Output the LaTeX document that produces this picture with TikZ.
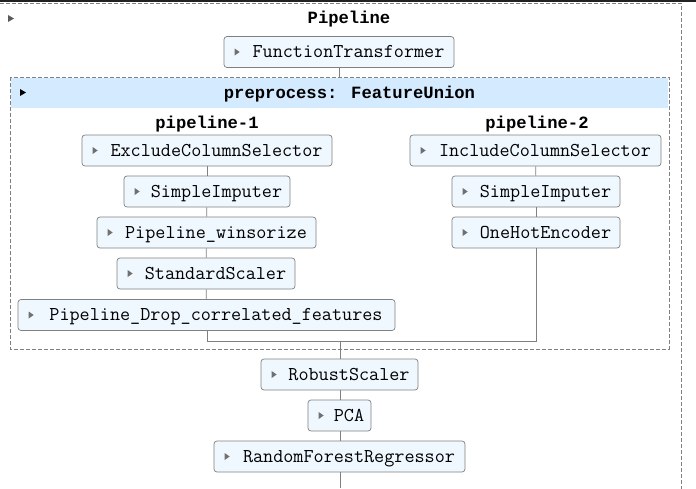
\documentclass[tikz,border=0pt]{standalone}
\usepackage{fontspec}
\setmainfont{Liberation Mono}
\definecolor{boxfill}{HTML}{F0F8FF}
\definecolor{hdrfill}{HTML}{D4EBFF}
\definecolor{linegray}{HTML}{808080}
\definecolor{trigray}{HTML}{707070}
\definecolor{topband}{HTML}{222222}
\tikzset{
  estbox/.style={draw=linegray, fill=boxfill, rounded corners=3pt, line width=0.7pt,
    minimum height=31pt, inner xsep=0pt, inner ysep=0pt, text height=14.5pt, text depth=3pt,
    font=\ttfamily\fontsize{19.6}{22}\selectfont},
  title/.style={font=\fontsize{17.2}{20}\selectfont\bfseries, inner sep=0pt, text height=14pt, text depth=3.5pt},
  conn/.style={draw=linegray, line width=0.8pt},
  dashbox/.style={draw=linegray, line width=0.8pt, dash pattern=on 4pt off 2pt},
  tri/.style={fill=trigray, sharp corners},
}
\begin{document}
\begin{tikzpicture}[x=1pt,y=-1pt]
\useasboundingbox (0,0) rectangle (696,488);
% top band and outer dashed border
\fill[topband] (0,0) rectangle (696,2.4);
\draw[dashbox] (0,3) -- (681,3) -- (681,490);
\fill[trigray!80!black] (8,15) -- (14,18.5) -- (8,22) -- cycle;
\node[title] (pipe) at (349,18) {Pipeline};
% preprocess box
\draw[dashbox] (10,77) rectangle (669,349);
\fill[hdrfill] (11,78) rectangle (668,108);
\fill[black] (20,89) -- (26,92.5) -- (20,96) -- cycle;
\node[title] (pre) at (349.5,93) {preprocess: FeatureUnion};
\coordinate (pretop) at (339,77);
% top estimator
\node[estbox, minimum width=230pt] (ft) at (339,52) {\hspace*{19pt}FunctionTransformer};
% pipeline-1
\node[title] (p1) at (207,123) {pipeline-1};
\node[estbox, minimum width=250pt] (ecs) at (207,150.5) {\hspace*{19pt}ExcludeColumnSelector};
\node[estbox, minimum width=166pt] (si1) at (207,191.5) {\hspace*{19pt}SimpleImputer};
\node[estbox, minimum width=219pt] (win) at (206.5,232.5) {\hspace*{19pt}Pipeline\_winsorize};
\node[estbox, minimum width=178pt] (ss) at (206,273.5) {\hspace*{19pt}StandardScaler};
\node[estbox, minimum width=377pt] (drop) at (206.5,315) {\hspace*{19pt}Pipeline\_Drop\_correlated\_features};
% pipeline-2
\node[title] (p2) at (537,123) {pipeline-2};
\node[estbox, minimum width=251pt] (ics) at (535.5,150.5) {\hspace*{19pt}IncludeColumnSelector};
\node[estbox, minimum width=168pt] (si2) at (536,191.5) {\hspace*{19pt}SimpleImputer};
\node[estbox, minimum width=168pt] (ohe) at (536,232.5) {\hspace*{19pt}OneHotEncoder};
% bottom estimators
\node[estbox, minimum width=157pt] (rs) at (339.5,374.5) {\hspace*{19pt}RobustScaler};
\node[estbox, minimum width=63pt] (pca) at (339.5,415.5) {\hspace*{19pt}PCA};
\node[estbox, minimum width=251pt] (rf) at (339.5,456.5) {\hspace*{19pt}RandomForestRegressor};
% toggle triangles inside boxes
\foreach \n in {ft,ecs,si1,win,ss,drop,ics,si2,ohe,rs,pca,rf}
  \fill[tri] ([xshift=11pt,yshift=3.5pt]\n.west) -- ++(5pt,-3.5pt) -- ++(-5pt,-3.5pt) -- cycle;
\coordinate (j1) at (207,341);
\coordinate (j2) at (536,341);
\coordinate (jm) at (340,341);
\coordinate (bot) at (340,488);
% connectors
\draw[conn] (ft.south -| pretop) -- (pretop);
\draw[conn] (ecs) -- (si1); \draw[conn] (si1) -- (win); \draw[conn] (win) -- (ss); \draw[conn] (ss) -- (drop);
\draw[conn] (ics) -- (si2); \draw[conn] (si2) -- (ohe);
\draw[conn] (drop.south -| j1) -- (j1) -- (j2) -- (ohe.south -| j2);
\draw[conn] (jm) -- (rs.north -| jm);
\draw[conn] (rs.south -| jm) -- (pca.north -| jm);
\draw[conn] (pca.south -| jm) -- (rf.north -| jm);
\draw[conn] (rf.south -| jm) -- (bot);
\end{tikzpicture}
\end{document}
